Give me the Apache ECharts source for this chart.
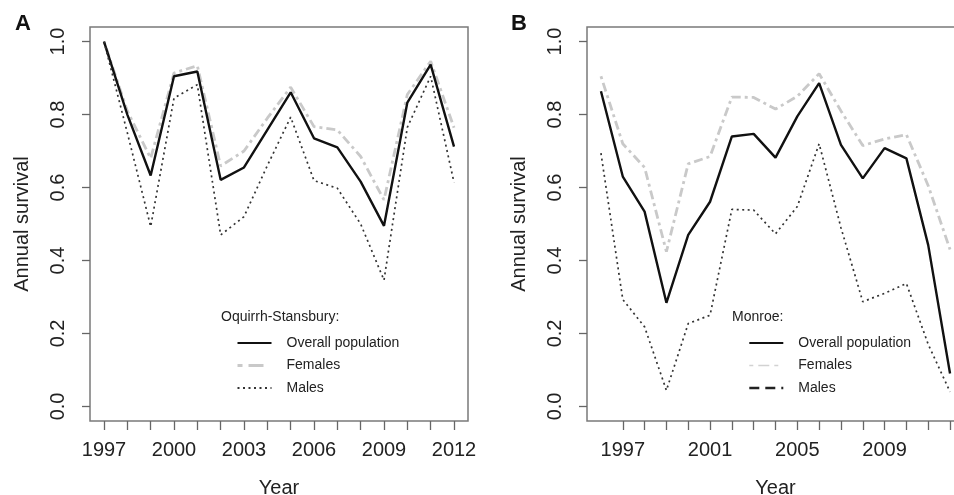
<!DOCTYPE html>
<html>
<head>
<meta charset="utf-8">
<script src="https://cdn.jsdelivr.net/npm/echarts@6/dist/echarts.min.js"></script>
<style>
  html, body { margin: 0; padding: 0; background: #fff; }
  #chart { width: 954px; height: 495px; }
</style>
</head>
<body>
<div id="chart"></div>
<script>
// panel A: Oquirrh-Stansbury
const yearsA = [1997, 1998, 1999, 2000, 2001, 2002, 2003, 2004, 2005, 2006, 2007, 2008, 2009, 2010, 2011, 2012]
const overallA = [1.0, 0.8, 0.633, 0.905, 0.918, 0.621, 0.655, 0.758, 0.861, 0.735, 0.71, 0.616, 0.495, 0.833, 0.937, 0.712]
const femalesA = [1.0, 0.81, 0.68, 0.914, 0.934, 0.659, 0.7, 0.79, 0.875, 0.767, 0.758, 0.685, 0.566, 0.855, 0.946, 0.764]
const malesA = [1.0, 0.75, 0.493, 0.845, 0.882, 0.47, 0.52, 0.66, 0.793, 0.619, 0.598, 0.5, 0.346, 0.765, 0.905, 0.614]
const tickLabelsA = [1997, 2000, 2003, 2006, 2009, 2012]

// panel B: Monroe
const yearsB = [1996, 1997, 1998, 1999, 2000, 2001, 2002, 2003, 2004, 2005, 2006, 2007, 2008, 2009, 2010, 2011, 2012]
const overallB = [0.864, 0.63, 0.534, 0.284, 0.47, 0.561, 0.74, 0.747, 0.682, 0.795, 0.886, 0.717, 0.625, 0.708, 0.68, 0.442, 0.09]
const femalesB = [0.905, 0.72, 0.655, 0.424, 0.665, 0.685, 0.848, 0.847, 0.815, 0.85, 0.912, 0.81, 0.715, 0.733, 0.745, 0.605, 0.43]
const malesB = [0.694, 0.293, 0.218, 0.044, 0.227, 0.25, 0.54, 0.538, 0.473, 0.548, 0.72, 0.49, 0.287, 0.31, 0.337, 0.17, 0.04]
const tickYearsB = [1997, 1998, 1999, 2000, 2001, 2002, 2003, 2004, 2005, 2006, 2007, 2008, 2009, 2010, 2011, 2012]
const tickLabelsB = [1997, 2001, 2005, 2009]

const yTicks = [0, 0.2, 0.4, 0.6, 0.8, 1.0]

const FONT = '"Liberation Sans", Arial, sans-serif'
const pairs = (xs, ys) => xs.map((x, i) => [x, ys[i]])

const myChart = echarts.init(document.getElementById('chart'), null, { renderer: 'canvas' })

const styles = {
  overall: { color: '#111', width: 2.4, type: 'solid' },
  females: { color: '#c9c9c9', width: 2.8, type: [3, 4, 9, 4] },
  males: { color: '#333', width: 1.7, type: [2, 3.5] },
}

const makeX = (idx, min, max, ticks, labels) => ({
  type: 'value',
  gridIndex: idx,
  min: min,
  max: max,
  name: 'Year',
  nameLocation: 'middle',
  nameGap: 57,
  nameTextStyle: { fontFamily: FONT, fontSize: 20, color: '#222' },
  axisLine: { show: false, onZero: false },
  splitLine: { show: false },
  axisTick: { show: true, length: 9, customValues: ticks, lineStyle: { color: '#666', width: 1.3 } },
  axisLabel: {
    customValues: labels,
    margin: 19,
    fontFamily: FONT,
    fontSize: 20,
    color: '#222',
    formatter: (v) => String(v),
  },
})

const makeY = (idx) => ({
  type: 'value',
  gridIndex: idx,
  min: -0.04,
  max: 1.04,
  name: 'Annual survival',
  nameLocation: 'middle',
  nameGap: 58,
  nameTextStyle: { fontFamily: FONT, fontSize: 20, color: '#222' },
  axisLine: { show: false, onZero: false },
  splitLine: { show: false },
  axisTick: { show: true, length: 8, customValues: yTicks, lineStyle: { color: '#666', width: 1.3 } },
  axisLabel: {
    customValues: yTicks,
    rotate: 90,
    margin: 22,
    fontFamily: FONT,
    fontSize: 20,
    color: '#222',
    formatter: (v) => v.toFixed(1),
  },
})

const line = (name, idx, data, st) => ({
  name: name,
  type: 'line',
  xAxisIndex: idx,
  yAxisIndex: idx,
  symbol: 'none',
  data: data,
  lineStyle: { color: st.color, width: st.width, type: st.type },
  itemStyle: { color: st.color },
})

const legendBase = {
  orient: 'vertical',
  top: 336,
  padding: 0,
  itemWidth: 34,
  itemHeight: 14,
  itemGap: 8.5,
  selectedMode: false,
  itemStyle: { opacity: 0 },
  textStyle: { fontFamily: FONT, fontSize: 14, color: '#222', padding: [0, 0, 0, 10] },
}

const option = {
  animation: false,
  backgroundColor: '#fff',
  title: [
    { text: 'A', left: 10, top: 8, textStyle: { fontFamily: FONT, fontSize: 22, fontWeight: 'bold', color: '#111' } },
    { text: 'B', left: 506, top: 8, textStyle: { fontFamily: FONT, fontSize: 22, fontWeight: 'bold', color: '#111' } },
    { text: 'Oquirrh-Stansbury:', left: 216, top: 305, textStyle: { fontFamily: FONT, fontSize: 14, fontWeight: 'normal', color: '#222' } },
    { text: 'Monroe:', left: 727, top: 305, textStyle: { fontFamily: FONT, fontSize: 14, fontWeight: 'normal', color: '#222' } },
  ],
  grid: [
    { left: 90, right: 486, top: 27, bottom: 74, outerBoundsMode: 'none', containLabel: false, show: true, borderColor: '#7a7a7a', borderWidth: 1.5, backgroundColor: 'transparent' },
    { left: 587, width: 377, top: 27, bottom: 74, outerBoundsMode: 'none', containLabel: false, show: true, borderColor: '#7a7a7a', borderWidth: 1.5, backgroundColor: 'transparent' },
  ],
  xAxis: [
    makeX(0, 1996.4, 2012.6, yearsA, tickLabelsA),
    makeX(1, 1995.36, 2012.64, tickYearsB, tickLabelsB),
  ],
  yAxis: [makeY(0), makeY(1)],
  legend: [
    Object.assign({}, legendBase, {
      left: 236,
      data: [
        { name: 'Overall population' },
        { name: 'Females', lineStyle: { type: [5, 6, 15, 8], width: 3, color: '#c9c9c9' } },
        { name: 'Males' },
      ],
    }),
    Object.assign({}, legendBase, {
      left: 748,
      formatter: (name) => name.replace(/^B /, ''),
      data: [
        { name: 'B Overall population' },
        { name: 'B Females', lineStyle: { type: [4, 5, 11, 5], width: 1.6, color: '#d2d2d2' } },
        { name: 'B Males', lineStyle: { type: [10, 6], width: 2.6, color: '#222' } },
      ],
    }),
  ],
  series: [
    line('Females', 0, pairs(yearsA, femalesA), styles.females),
    line('Overall population', 0, pairs(yearsA, overallA), styles.overall),
    line('Males', 0, pairs(yearsA, malesA), styles.males),
    line('B Females', 1, pairs(yearsB, femalesB), styles.females),
    line('B Overall population', 1, pairs(yearsB, overallB), styles.overall),
    line('B Males', 1, pairs(yearsB, malesB), styles.males),
  ],
}

myChart.setOption(option)
</script>
</body>
</html>
